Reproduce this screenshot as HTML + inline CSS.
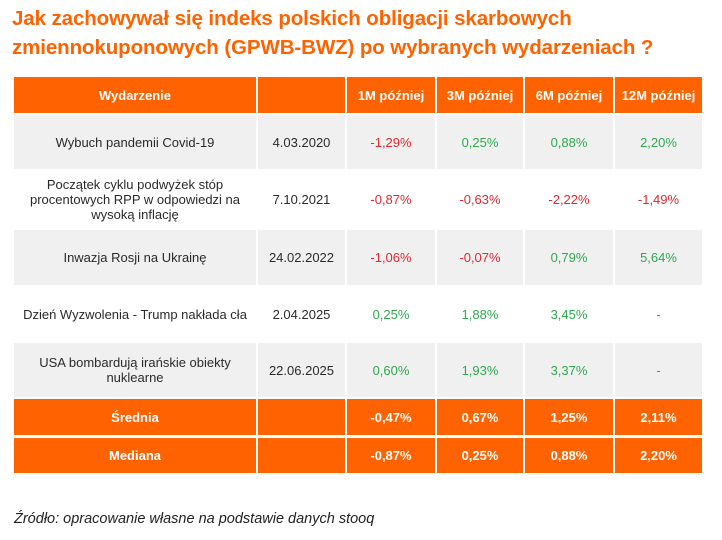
<!DOCTYPE html>
<html><head><meta charset="utf-8"><style>
body{margin:0;width:722px;height:540px;background:#fff;font-family:"Liberation Sans",sans-serif;position:relative;overflow:hidden}
h1{position:absolute;left:12px;top:4px;margin:0;font-size:20.5px;line-height:29px;color:#ff6200;font-weight:bold;letter-spacing:-0.1px}
.c{position:absolute;display:flex;align-items:center;justify-content:center;text-align:center;font-size:13px;color:#2a2a2a;line-height:15px}
.o{background:#ff6200;color:#fff;font-weight:bold}
.g{background:#f0f0f0}
.r{color:#e0282e}.gr{color:#2fa84f}
.src{position:absolute;left:14px;top:511px;font-style:italic;font-size:14.5px;color:#222}
</style></head><body>
<h1>Jak zachowywał się indeks polskich obligacji skarbowych<br>zmiennokuponowych (GPWB-BWZ) po wybranych wydarzeniach ?</h1>
<div id="t"></div>
<div class="src">Źródło: opracowanie własne na podstawie danych stooq</div>
<script>
const cols=[[14,242],[258,87],[347,88],[437,86],[525,88],[615,87]];
const rows=[[77,36,'o'],[115,54,'g'],[171,57,''],[230,55,'g'],[287,54,''],[343,54,'g'],[399,36,'o'],[438,35,'o']];
const d=[
['Wydarzenie','','1M później','3M później','6M później','12M później'],
['Wybuch pandemii Covid-19','4.03.2020','-1,29%','0,25%','0,88%','2,20%'],
['Początek cyklu podwyżek stóp<br>procentowych RPP w odpowiedzi na<br>wysoką inflację','7.10.2021','-0,87%','-0,63%','-2,22%','-1,49%'],
['Inwazja Rosji na Ukrainę','24.02.2022','-1,06%','-0,07%','0,79%','5,64%'],
['Dzień Wyzwolenia - Trump nakłada cła','2.04.2025','0,25%','1,88%','3,45%','-'],
['USA bombardują irańskie obiekty<br>nuklearne','22.06.2025','0,60%','1,93%','3,37%','-'],
['Średnia','','-0,47%','0,67%','1,25%','2,11%'],
['Mediana','','-0,87%','0,25%','0,88%','2,20%']];
let h='';
rows.forEach((r,i)=>cols.forEach((c,j)=>{
 let v=d[i][j],cls='c '+r[2];
 if(r[2]!='o'&&j>=2){cls+=v.startsWith('-')?(v=='-'?' gr':' r'):' gr';}
 h+=`<div class="${cls}" style="left:${c[0]}px;top:${r[0]}px;width:${c[1]}px;height:${r[1]}px">${v}</div>`;
}));
document.getElementById('t').innerHTML=h;
</script>
</body></html>
